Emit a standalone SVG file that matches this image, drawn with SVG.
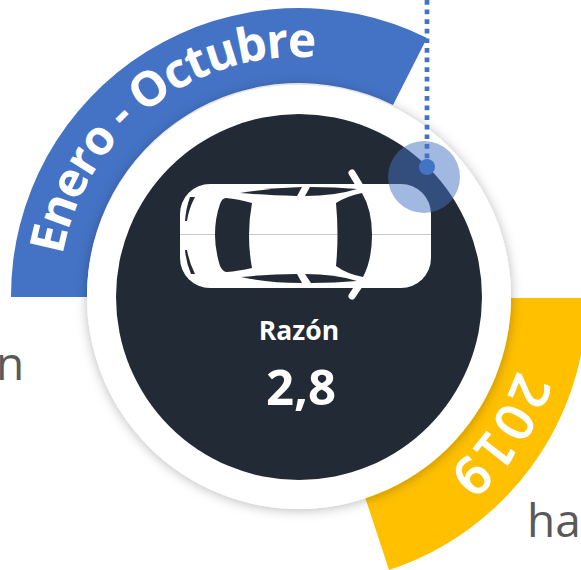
<svg xmlns="http://www.w3.org/2000/svg" width="581" height="570" viewBox="0 0 581 570">
<style>
.t{font-family:"Open Sans","Noto Sans",sans-serif}
.w{fill:#fff}
.d{fill:#222a35}
.g{fill:#595959;font-size:46px}
</style>
<defs>
<filter id="sh" x="-20%" y="-20%" width="140%" height="140%"><feDropShadow dx="0" dy="1" stdDeviation="6" flood-color="#000" flood-opacity=".28"/></filter>
<filter id="sh2" x="-20%" y="-100%" width="140%" height="300%"><feDropShadow dx="0" dy="2" stdDeviation="2.5" flood-color="#000" flood-opacity=".45"/></filter>
<path id="arcB" d="M59 297A240 240 0 0 1 539 297" fill="none"/>
<path id="arcY" d="M530 297A231 231 0 0 1 68 297" fill="none"/>
</defs>
<rect width="581" height="570" fill="#fff"/>
<g id="note-box"><rect x="-20" y="-40" width="153" height="40" fill="#fff" filter="url(#sh2)"/></g>
<text class="t g" x="-4" y="380">n</text>
<text class="t g" x="527" y="537">ha</text>
<g id="band-period">
<path d="M11 297A288 288 0 0 1 427 38L393 105A212 212 0 0 0 87 297Z" fill="#4472c4"/>
<text class="t w" font-size="48" font-weight="700"><textPath href="#arcB" startOffset="42" textLength="352" lengthAdjust="spacing">Enero - Octubre</textPath></text>
</g>
<g id="band-year">
<path d="M511 298H587A288 288 0 0 1 389 570L365 497A212 212 0 0 0 511 298Z" fill="#ffc000"/>
<text class="w" font-family="'DejaVu Sans',sans-serif" font-size="50" stroke="#fff" stroke-width="1.600"><textPath href="#arcY" startOffset="74">2019</textPath></text>
</g>
<g id="hub">
<circle cx="299" cy="297" r="212" fill="#fff" filter="url(#sh)"/>
<circle class="d" cx="299" cy="297" r="183"/>
</g>
<g id="car">
<rect class="w" x="180" y="184" width="251" height="104" rx="30"/>
<path d="M352 173L361 188M352 296L360 284" stroke="#fff" stroke-width="7" stroke-linecap="round" fill="none"/>
<line x1="180" y1="234.500" x2="431" y2="234.500" stroke="#c9c9c9" stroke-width="1"/>
<g class="d">
<path d="M226 198Q238 199 252 203Q246 235 252 268Q238 271 227 272Q223 272 220 266Q215 250 215 235Q215 218 220 204Q222 198 226 198Z"/>
<path d="M336 203Q347 196 362 193Q372 210 372 235Q372 260 363 277Q347 274 336 266Q339 235 336 203Z"/>
<path d="M240 193Q270 188 302 187L297 196Q265 195 240 193Z"/>
<path d="M310 187Q335 187 357 189Q335 196 305 196Z"/>
<path d="M241 277Q270 274 297 274L302 283Q268 283 241 277Z"/>
<path d="M305 274Q335 274 357 281Q335 283 311 283Z"/>
<path d="M190 197H195Q189 208 187 221H185Q186 208 190 197Z"/>
<path d="M185 250H187Q189 262 195 274H191Q186 262 185 250Z"/>
</g>
</g>
<g id="labels">
<text class="t w" x="299" y="340" font-size="26.500" font-weight="700" text-anchor="middle">Razón</text>
<text class="t w" x="301" y="405" font-size="49" font-weight="700" text-anchor="middle">2,8</text>
</g>
<g id="connectors">
<line x1="427" y1="0" x2="427" y2="167" stroke="#4472c4" stroke-width="4.700" stroke-dasharray="4.700 4.900"/>
</g>
<g id="marker">
<circle cx="424" cy="177" r="36" fill="#4472c4" fill-opacity=".5"/>
<circle cx="427" cy="167" r="8" fill="#4472c4"/>
</g>
</svg>
